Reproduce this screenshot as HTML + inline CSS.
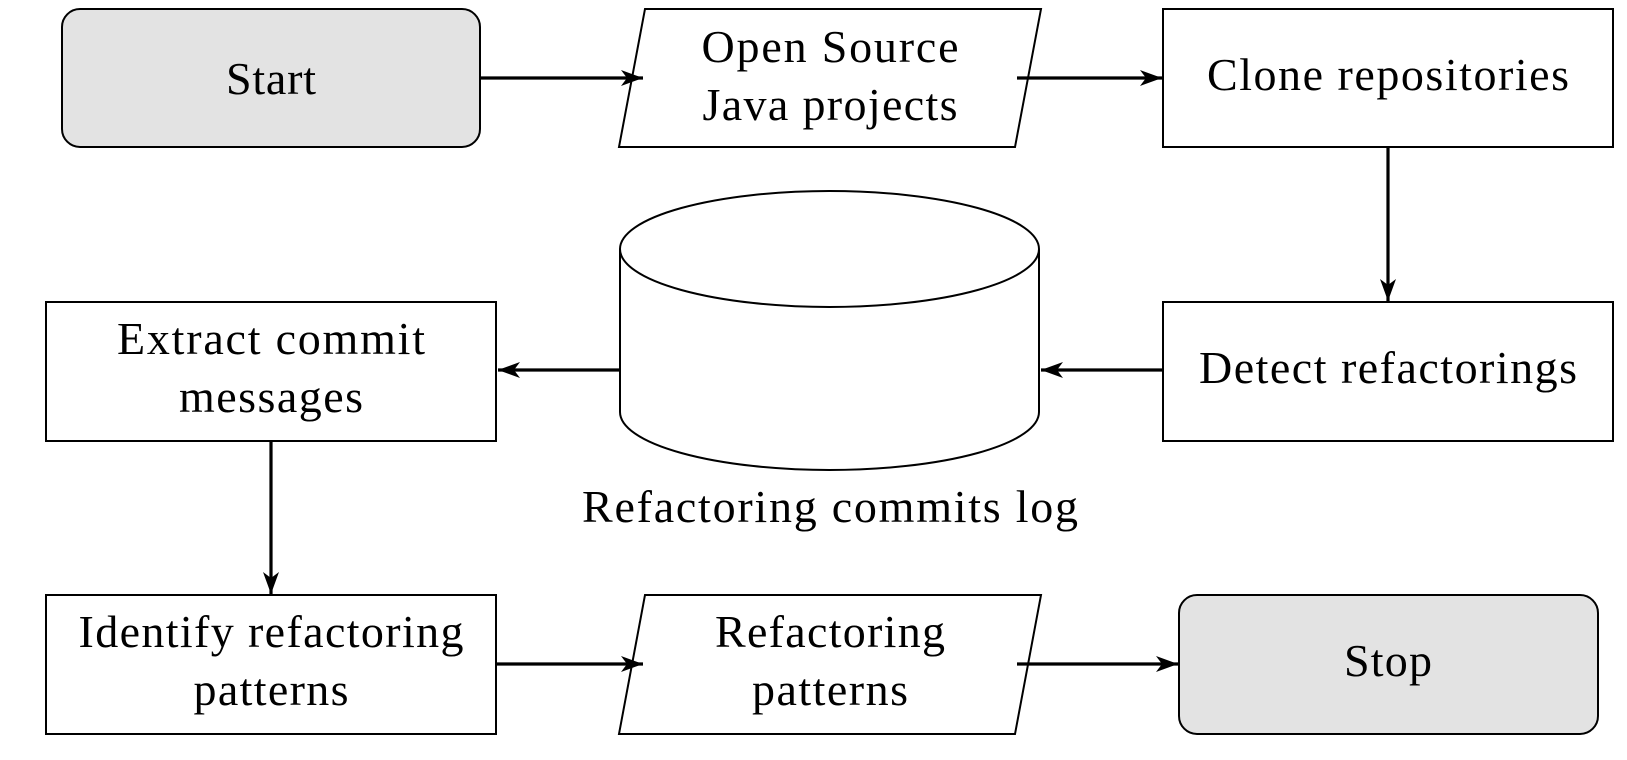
<!DOCTYPE html>
<html><head><meta charset="utf-8"><style>html,body{margin:0;padding:0;background:#fff}svg{display:block}</style></head>
<body>
<svg width="1627" height="760" viewBox="0 0 1627 760" xmlns="http://www.w3.org/2000/svg">
<defs>
<marker id="a" markerWidth="24" markerHeight="18" refX="22" refY="9" orient="auto" markerUnits="userSpaceOnUse">
<path d="M0,1 L22,9 L0,17 L6,9 Z" fill="#000"/>
</marker>
</defs>
<g fill="none" stroke="#000" stroke-width="2">
<rect x="62" y="9" width="418" height="138" rx="18" fill="#e3e3e3"/>
<polygon points="645,9 1041,9 1015,147 619,147" fill="#fff"/>
<rect x="1163" y="9" width="450" height="138" fill="#fff"/>
<rect x="1163" y="302" width="450" height="139" fill="#fff"/>
<rect x="46" y="302" width="450" height="139" fill="#fff"/>
<path d="M620,249 L620,412 A209.5,58 0 0 0 1039,412 L1039,249" fill="#fff"/>
<ellipse cx="829.5" cy="249" rx="209.5" ry="58" fill="#fff"/>
<rect x="46" y="595" width="450" height="139" fill="#fff"/>
<polygon points="645,595 1041,595 1015,734 619,734" fill="#fff"/>
<rect x="1179" y="595" width="419" height="139" rx="18" fill="#e3e3e3"/>
</g>
<g stroke="#000" stroke-width="3.2" marker-end="url(#a)">
<line x1="481" y1="78" x2="643" y2="78"/>
<line x1="1017" y1="78" x2="1162" y2="78"/>
<line x1="1388" y1="148" x2="1388" y2="301"/>
<line x1="1162" y1="370" x2="1041" y2="370"/>
<line x1="620" y1="370" x2="498" y2="370"/>
<line x1="271" y1="442" x2="271" y2="594"/>
<line x1="497" y1="664" x2="643" y2="664"/>
<line x1="1017" y1="664" x2="1178" y2="664"/>
</g>
<g font-family="Liberation Serif, serif" font-size="46" text-anchor="middle" fill="#000" lengthAdjust="spacing">
<text x="271" y="94" textLength="90">Start</text>
<text x="830" y="62" textLength="257">Open Source</text>
<text x="830" y="120" textLength="255">Java projects</text>
<text x="1388" y="90" textLength="362">Clone repositories</text>
<text x="1388" y="383" textLength="378">Detect refactorings</text>
<text x="271" y="354" textLength="308">Extract commit</text>
<text x="271" y="412" textLength="184">messages</text>
<text x="830" y="522" textLength="496">Refactoring commits log</text>
<text x="271" y="647" textLength="385">Identify refactoring</text>
<text x="271" y="705" textLength="155">patterns</text>
<text x="830" y="647" textLength="230">Refactoring</text>
<text x="830" y="705" textLength="156">patterns</text>
<text x="1388" y="676" textLength="88">Stop</text>
</g>
</svg>
</body></html>
